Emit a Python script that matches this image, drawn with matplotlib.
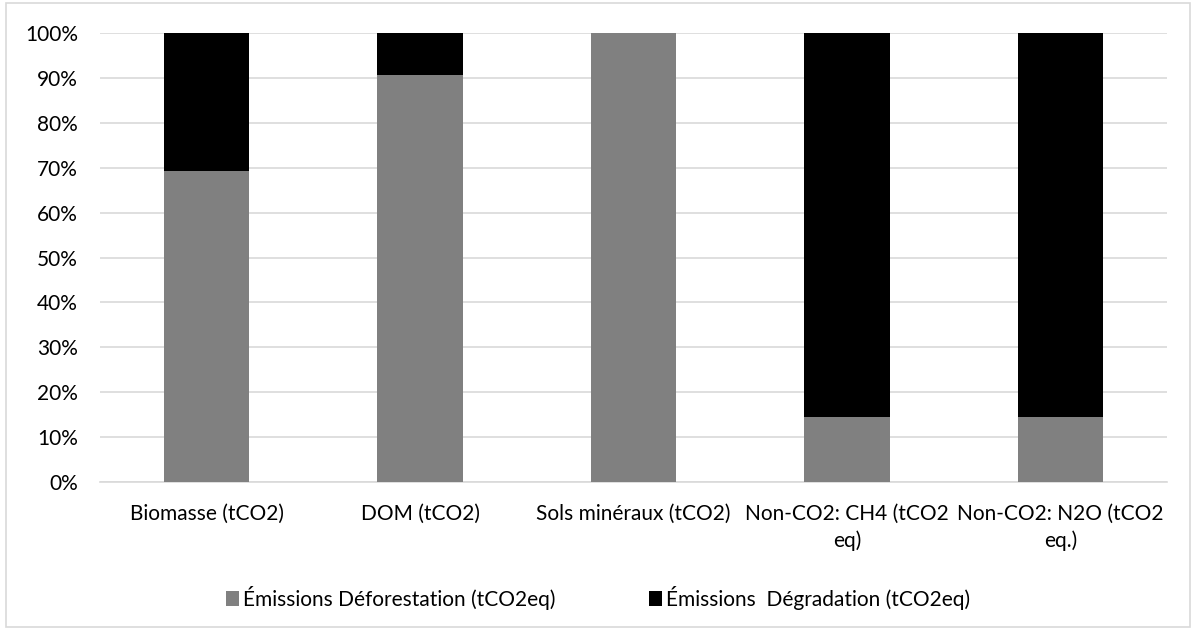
import matplotlib
matplotlib.use("Agg")
import matplotlib.pyplot as plt
from matplotlib.patches import Rectangle
from matplotlib.ticker import FuncFormatter

categories = [
    "Biomasse (tCO2)",
    "DOM (tCO2)",
    "Sols minéraux (tCO2)",
    "Non-CO2: CH4 (tCO2\neq)",
    "Non-CO2: N2O (tCO2\neq.)",
]
deforestation = [69.3, 90.6, 100.0, 14.4, 14.4]
degradation = [30.7, 9.4, 0.0, 85.6, 85.6]
series_names = ["Émissions Déforestation (tCO2eq)", "Émissions  Dégradation (tCO2eq)"]

plt.rcParams["font.family"] = ["Lato", "DejaVu Sans"]
plt.rcParams["font.size"] = 15

fig = plt.figure(figsize=(11.96, 6.3), dpi=100)
ax = fig.add_axes([100 / 1196, 1 - 482 / 630, 1067 / 1196, 449 / 630])

x = range(len(categories))
ax.bar(x, deforestation, width=0.4, color="#808080", label=series_names[0], zorder=3)
ax.bar(x, degradation, width=0.4, bottom=deforestation, color="#000000",
       label=series_names[1], zorder=3)

ax.set_xlim(-0.5, len(categories) - 0.5)
ax.set_ylim(0, 100)
ax.set_yticks(range(0, 101, 10))
ax.yaxis.set_major_formatter(FuncFormatter(lambda v, _: f"{v:.0f}%"))
ax.set_xticks(list(x))
ax.set_xticklabels(categories, linespacing=1.35)
ax.grid(axis="y", color="#d9d9d9", linewidth=1.2, zorder=0)
for side in ["top", "right", "left"]:
    ax.spines[side].set_visible(False)
ax.spines["bottom"].set_color("#d9d9d9")
ax.spines["bottom"].set_linewidth(1.2)
ax.tick_params(axis="both", length=0, colors="black")
ax.tick_params(axis="x", pad=16)
ax.tick_params(axis="y", pad=16)

handles, labels = ax.get_legend_handles_labels()
fig.legend(handles, labels, loc="center", bbox_to_anchor=(0.5, 1 - 598 / 630),
           ncol=2, frameon=False, handlelength=0.6, handleheight=0.7,
           handletextpad=0.2, columnspacing=4.5)

fig.patches.append(Rectangle((6 / 1196, 3 / 630), 1184 / 1196, 624 / 630,
                             transform=fig.transFigure, fill=False,
                             edgecolor="#d9d9d9", linewidth=1.2))

fig.savefig("out.png", dpi=100)
